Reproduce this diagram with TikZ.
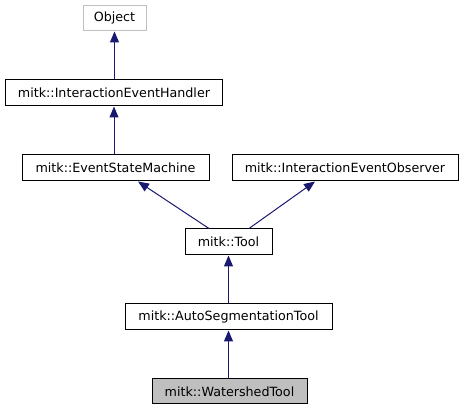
\documentclass[tikz,border=0pt]{standalone}
\usepackage{fontspec}
\setmainfont{DejaVu Sans}
\usetikzlibrary{arrows.meta}
\definecolor{edgecol}{HTML}{191970}
\definecolor{graybox}{HTML}{BFBFBF}
\tikzset{
  cls/.style={draw=black, line width=1pt, inner sep=0pt, font=\fontsize{12.7}{14}\selectfont},
  inh/.style={draw=edgecol, line width=1pt, -{Triangle[length=11pt,width=9pt]}},
}
\begin{document}
\begin{tikzpicture}[x=1pt,y=-1pt]
\useasboundingbox (0,0) rectangle (464,411);
\node[cls, draw=graybox, minimum width=63pt, minimum height=25pt] (obj) at (114.5,18.5) {Object};
\node[cls, minimum width=217pt, minimum height=26pt] (ieh) at (114,93) {mitk::InteractionEventHandler};
\node[cls, minimum width=187pt, minimum height=26pt] (esm) at (115.5,168) {mitk::EventStateMachine};
\node[cls, minimum width=226pt, minimum height=26pt] (ieo) at (345,168) {mitk::InteractionEventObserver};
\node[cls, minimum width=87pt, minimum height=26pt] (tool) at (228.5,242) {mitk::Tool};
\node[cls, minimum width=207pt, minimum height=26pt] (ast) at (228.5,317) {mitk::AutoSegmentationTool};
\node[cls, fill=graybox, minimum width=155pt, minimum height=25pt] (wst) at (229.5,391.5) {mitk::WatershedTool};
\draw[inh] (ieh.north -| obj.south) -- (obj.south);
\draw[inh] (esm.north -| ieh.south) -- (ieh.south);
\draw[inh] ([xshift=-19.5pt]tool.north) -- ([xshift=22.5pt]esm.south);
\draw[inh] ([xshift=20.5pt]tool.north) -- ([xshift=-30pt]ieo.south);
\draw[inh] (ast.north) -- (tool.south);
\draw[inh] (wst.north -| ast.north) -- (ast.south);
\end{tikzpicture}
\end{document}
